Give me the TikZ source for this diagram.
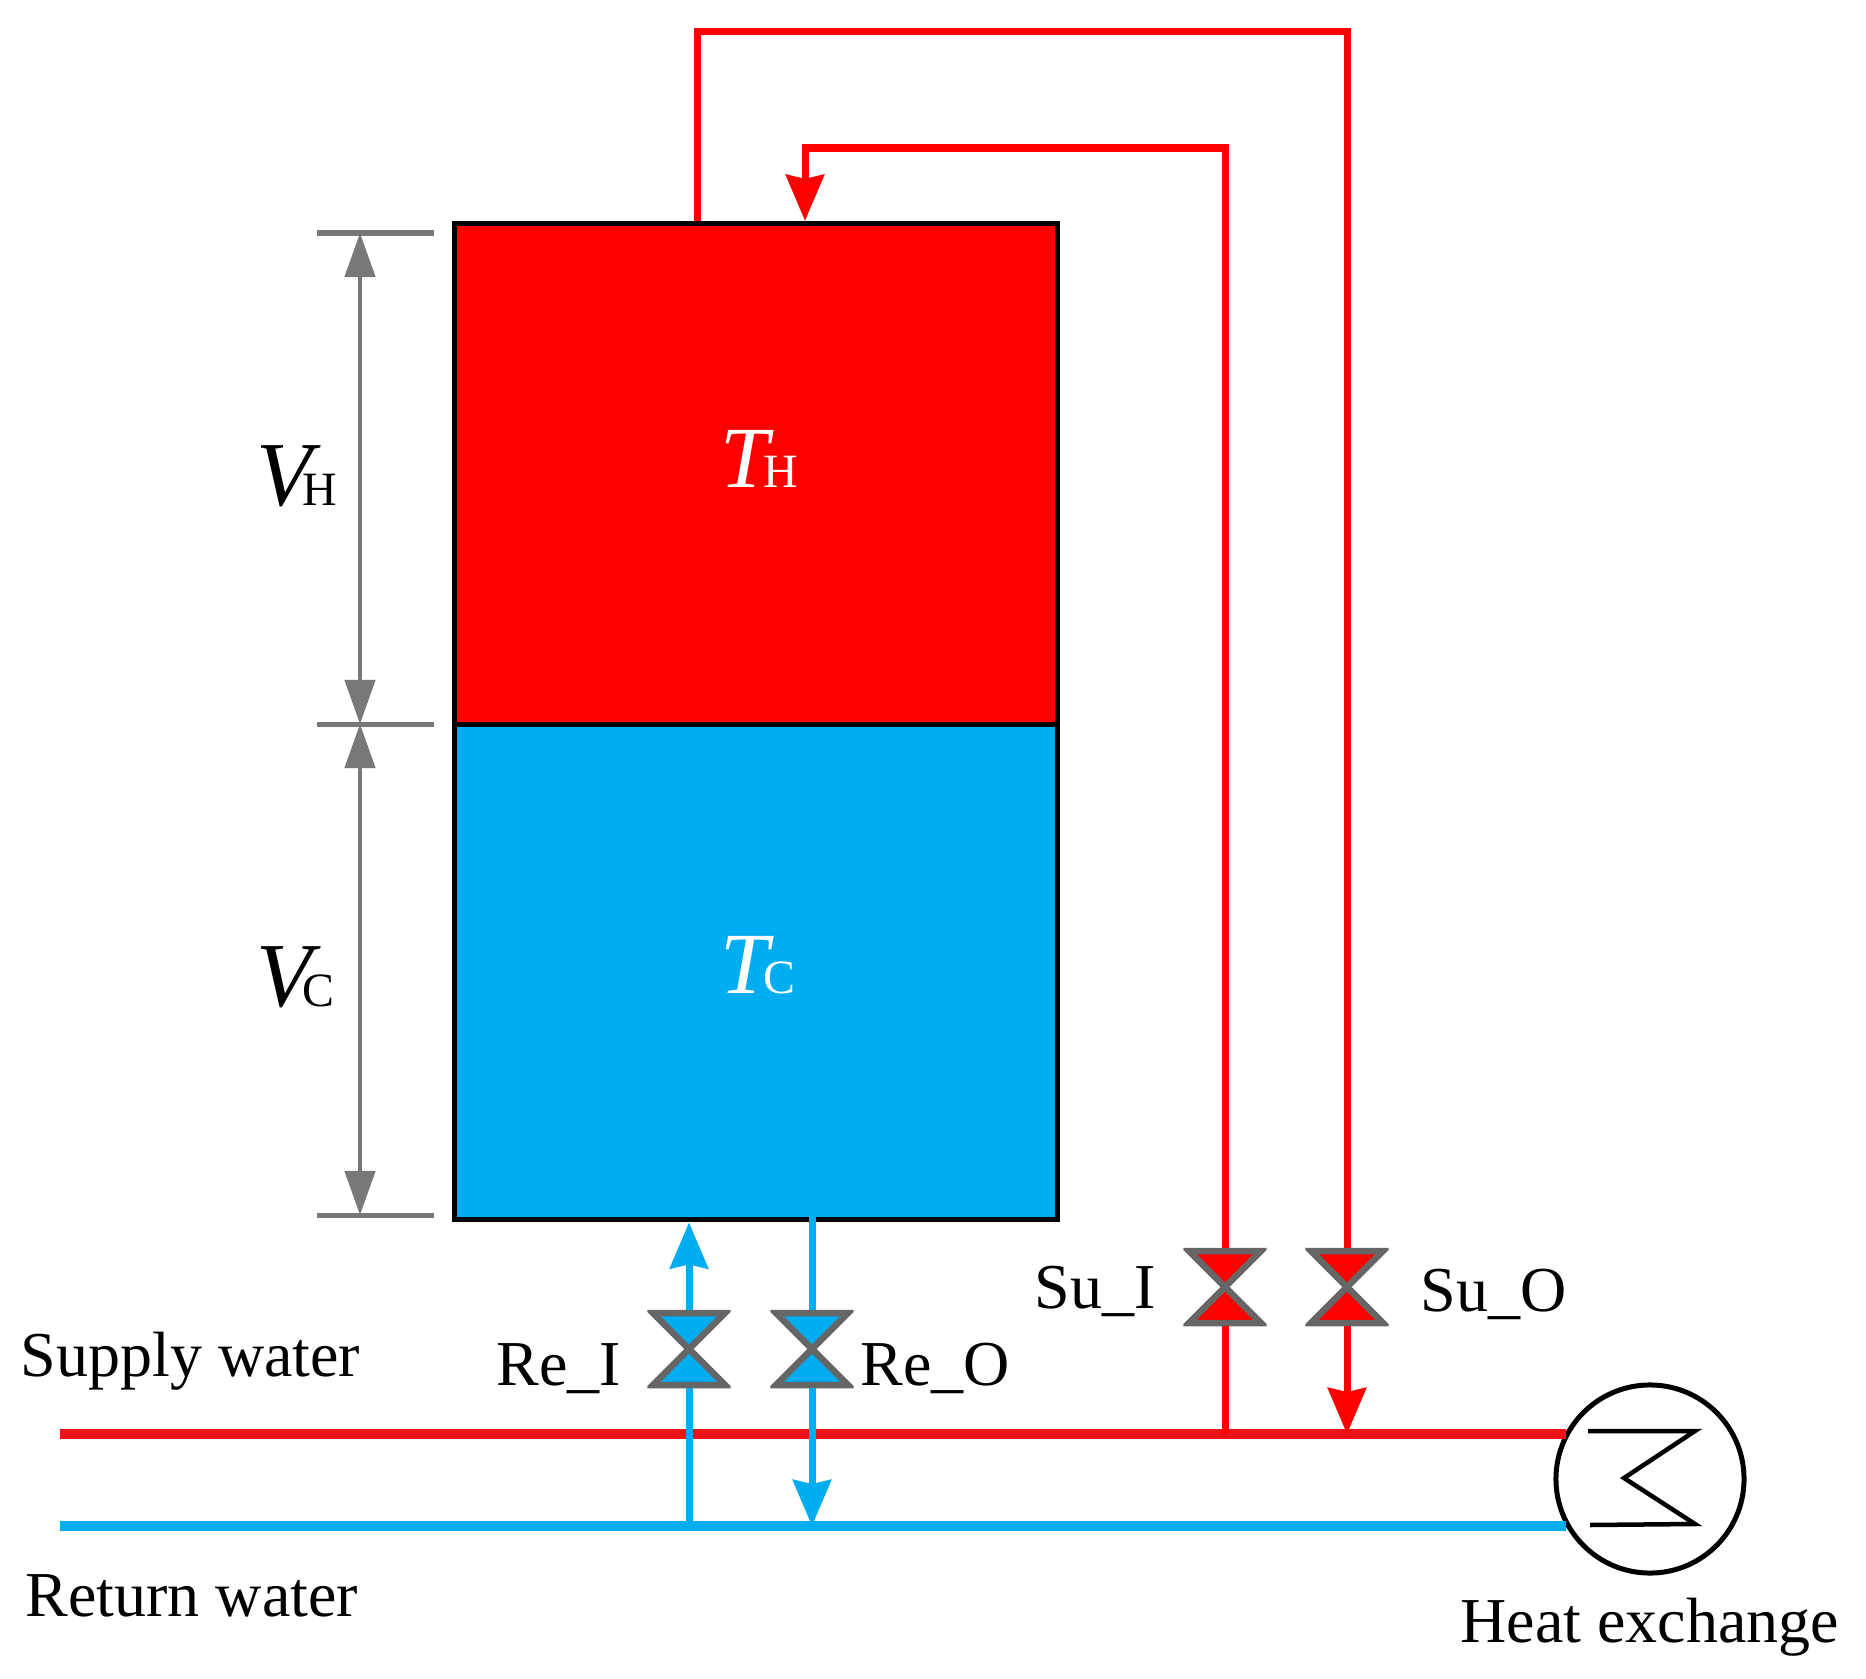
\documentclass[tikz,border=0pt]{standalone}
\usepackage{fontspec}
\setmainfont{Liberation Serif}
\usepackage{xcolor}
\usepackage{tikz}
\usetikzlibrary{arrows.meta}
\usetikzlibrary{positioning}
\definecolor{hotred}{rgb}{1.0,0.0,0.0}
\definecolor{pipered}{rgb}{0.93,0.07,0.09}
\definecolor{coldblue}{rgb}{0.0,0.68,0.94}
\definecolor{dimgray}{rgb}{0.47,0.47,0.47}
\newcommand{\symlabel}[4]{{\fontsize{#1}{#1}\selectfont\itshape #2}\kern#4{\fontsize{13.6}{15}\selectfont #3}}

\begin{document}
\begin{tikzpicture}[x=0.01cm,y=-0.01cm]
\tikzset{
    tank/.style      = {rectangle, draw=black, line width=0.05cm, minimum width=6.03cm, inner sep=0pt},
    txt/.style       = {anchor=base west, inner sep=0pt, font=\fontsize{18.2}{20}\selectfont},
    sym/.style       = {anchor=base west, inner sep=0pt},
    valve/.style     = {rectangle, inner sep=0pt, outer sep=0pt, minimum width=0.83cm, minimum height=0.78cm,
                        path picture={\draw[dimgray!85!black, line width=0.065cm, fill=#1, shift={(path picture bounding box.center)}]
                        (-36,-36) -- (36,-36) -- (-36,36) -- (36,36) -- cycle;}},
    hotpipe/.style   = {draw=hotred, line width=0.07cm},
    coldpipe/.style  = {draw=coldblue, line width=0.07cm},
    hotmain/.style   = {draw=pipered, line width=0.1cm},
    coldmain/.style  = {draw=coldblue, line width=0.1cm},
    flow/.style      = {-{Stealth[length=0.46cm,width=0.38cm,inset=0.04cm]}},
    dimline/.style   = {draw=dimgray, line width=0.045cm, {Triangle[length=0.44cm,width=0.3cm]}-{Triangle[length=0.44cm,width=0.3cm]}},
    dimtick/.style   = {draw=dimgray, line width=0.05cm},
    coil/.style      = {draw=black, line width=0.045cm}
}
\useasboundingbox (0,0) rectangle (1866,1679);

% storage tank
\node [tank, fill=hotred, minimum height=5.01cm] (hot) at (756,474) {};
\node [tank, fill=coldblue, minimum height=4.95cm, below=-0.05cm of hot] (cold) {};
\node [sym, text=white] (th) at (720,487) {\symlabel{24.8}{T}{H}{-0.06cm}};
\node [sym, text=white] (tc) at (720,993) {\symlabel{24.8}{T}{C}{-0.06cm}};

% volume dimensions
\foreach \nm/\y in {dimtop/233, dimmid/724, dimbot/1215}
{
   \coordinate (\nm) at (360,\y);
   \draw [dimtick] (317,\y) -- (434,\y);
}
\draw [dimline] (dimtop) -- (dimmid);
\draw [dimline] (dimmid) -- (dimbot);
\node [sym] (vh) at (256,505) {\symlabel{26}{V}{H}{-0.1cm}};
\node [sym] (vc) at (256,1006) {\symlabel{26}{V}{C}{-0.1cm}};

% heat exchanger
\node [circle, draw=black, fill=white, line width=0.05cm, minimum size=1.88cm, inner sep=0pt] (hx) at (1650,1479) {};
\draw [coil, shift={(hx.center)}] (-62,-48) -- (45,-48) -- (-26,-1) -- (45,45) -- (-60,46);
\node [txt] (hxlabel) at (1460,1642) {Heat exchange};

% mains
\coordinate (supL) at (60,1434);
\coordinate (retL) at (60,1526);
\draw [hotmain] (supL) -- (supL -| hx.150);
\draw [coldmain] (retL) -- (retL -| hx.210);
\node [txt] (suplabel) at (20,1376) {Supply water};
\node [txt] (retlabel) at (25,1616) {Return water};

% valves
\foreach \nm/\x/\y/\col in {reI/689/1349/coldblue, reO/812/1349/coldblue, suI/1225/1287/hotred, suO/1347/1287/hotred}
{
   \node [valve=\col] (\nm) at (\x,\y) {};
}
\node [txt] (reIlabel) at (496,1385) {Re\_I};
\node [txt] (reOlabel) at (860,1385) {Re\_O};
\node [txt] (suIlabel) at (1034,1308) {Su\_I};
\node [txt] (suOlabel) at (1420,1311) {Su\_O};

% return side pipes
\coordinate (reOtop) at (812,1214);
\draw [coldpipe] (retL -| reI) -- (reI.south);
\draw [coldpipe, flow] (reI.north) -- (reI |- cold.south);
\draw [coldpipe] (reOtop) -- (reO.north);
\draw [coldpipe, flow] (reO.south) -- (reO |- retL);

% supply side pipes
\coordinate (outTop) at (697,32);
\coordinate (inTop) at (805,148);
\draw [hotpipe] (outTop |- hot.north) -- (outTop) -| (suO.north);
\draw [hotpipe, flow] (suO.south) -- (suO |- supL);
\draw [hotpipe] (supL -| suI) -- (suI.south);
\draw [hotpipe, flow] (suI.north) |- (inTop) -- (inTop |- hot.north);
\end{tikzpicture}
\end{document}
